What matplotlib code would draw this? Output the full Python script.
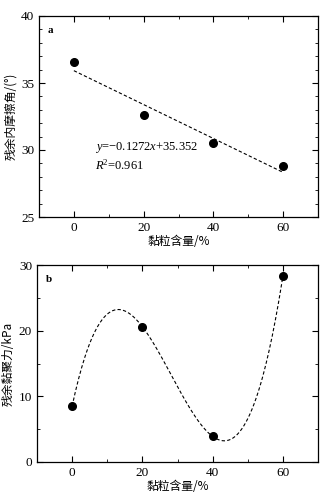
import numpy as np
import matplotlib
matplotlib.use("Agg")
import matplotlib.pyplot as plt
from matplotlib.ticker import MultipleLocator

plt.rcParams['font.family'] = ['Liberation Serif', 'Noto Sans CJK SC']
plt.rcParams['mathtext.fontset'] = 'custom'
plt.rcParams['mathtext.rm'] = 'Liberation Serif'
plt.rcParams['mathtext.it'] = 'Liberation Serif:italic'
plt.rcParams['axes.unicode_minus'] = False

# data
clay = [0, 20, 40, 60]
phi_r = [36.55, 32.6, 30.55, 28.8]      # residual friction angle
c_r = [8.5, 20.6, 3.9, 28.3]            # residual cohesion
xlabel = "黏粒含量/%"
ylabel_a = "残余内摩擦角/(°)"
ylabel_b = "残余黏聚力/kPa"
eq_text = "$y$=\u22120.1272$x$+35.352\n$R$$^{2}$=0.961"

cjk = ['Noto Sans CJK SC', 'Liberation Serif']

fig = plt.figure(figsize=(3.25, 4.92), dpi=100)
ax1 = fig.add_axes([39/325, 1-217/492, 279/325, 201/492])
ax2 = fig.add_axes([37/325, 1-462/492, 281/325, 197/492])

def style(ax, ymaj, ymin):
    ax.set_xlim(-10, 70)
    ax.xaxis.set_major_locator(MultipleLocator(20))
    ax.xaxis.set_minor_locator(MultipleLocator(10))
    ax.yaxis.set_major_locator(MultipleLocator(ymaj))
    ax.yaxis.set_minor_locator(MultipleLocator(ymin))
    ax.tick_params(which='both', direction='in', top=True, right=True, labelsize=9.5)
    ax.tick_params(which='major', length=4, width=0.8)
    ax.tick_params(which='minor', length=2, width=0.6)
    for s in ax.spines.values():
        s.set_linewidth(0.9)
    ax.set_xlabel(xlabel, family=cjk, fontsize=8.5, labelpad=1)

# panel a
x = np.array(clay, dtype=float)
m, b = np.polyfit(x, phi_r, 1)
ax1.plot(x, phi_r, 'o', color='black', ms=5.5)
ax1.plot([x[0], x[-1]], [m*x[0]+b, m*x[-1]+b], '--', color='black', lw=0.8, dashes=(3, 2))
ax1.set_ylim(25, 40)
style(ax1, 5, 1)
ax1.set_ylabel(ylabel_a, family=cjk, fontsize=8.5, labelpad=3)
ax1.text(0.03, 0.95, 'a', transform=ax1.transAxes, fontsize=8, fontweight='bold', va='top')
ax1.text(6, 29.5, eq_text, fontsize=9, va='center', linespacing=1.25)

# panel b
coef = np.polyfit(x, c_r, 3)
xs = np.linspace(0, 60, 200)
ax2.plot(x, c_r, 'o', color='black', ms=5.5)
ax2.plot(xs, np.polyval(coef, xs), '--', color='black', lw=0.8, dashes=(3, 2))
ax2.set_ylim(0, 30)
style(ax2, 10, 5)
ax2.set_ylabel(ylabel_b, family=cjk, fontsize=8.5, labelpad=3)
ax2.text(0.03, 0.95, 'b', transform=ax2.transAxes, fontsize=8, fontweight='bold', va='top')

fig.savefig("out.png", dpi=100)
